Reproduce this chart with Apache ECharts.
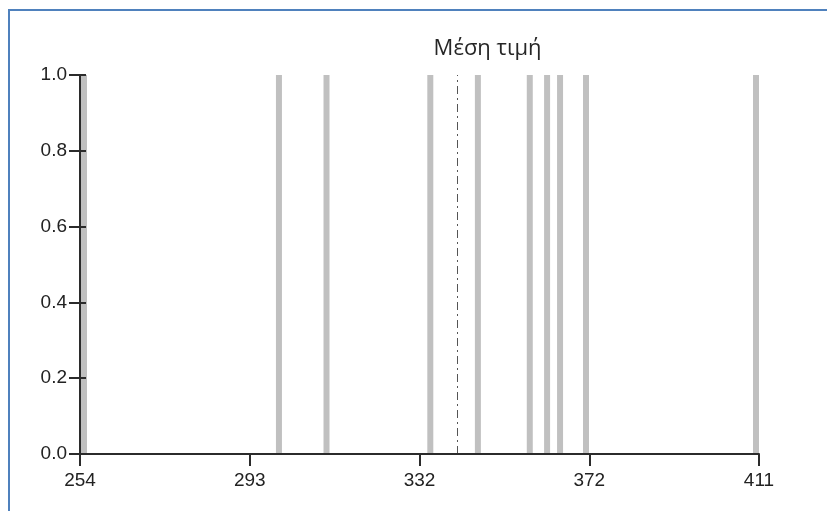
<!DOCTYPE html>
<html>
<head>
<meta charset="utf-8">
<script src="https://cdn.jsdelivr.net/npm/echarts@6/dist/echarts.min.js"></script>
<style>
html,body{margin:0;padding:0;background:#fff;}
#chart{width:827px;height:511px;}
</style>
</head>
<body>
<div id="chart"></div>
<script>
// Data
var values = [254, 300, 311, 335, 346, 358, 362, 365, 371, 411];
var counts = [1, 1, 1, 1, 1, 1, 1, 1, 1, 1];
var meanLabel = 'Μέση τιμή';
var xTickValues = [254, 293.25, 332.5, 371.75, 411];
var xTickLabels = ['254', '293', '332', '372', '411'];
var yTickLabels = ['0.0', '0.2', '0.4', '0.6', '0.8', '1.0'];

var meanValue = values.reduce(function (a, b) { return a + b; }, 0) / values.length;
var barData = values.map(function (v, i) { return [v, counts[i]]; });

var chart = echarts.init(document.getElementById('chart'));
var axisColor = '#2b2b2b';
var labelFont = { fontFamily: 'Liberation Sans, Arial, sans-serif', fontSize: 19, color: '#222' };

function nearestLabel(v) {
  var best = 0, d = Infinity;
  for (var i = 0; i < xTickValues.length; i++) {
    var dd = Math.abs(xTickValues[i] - v);
    if (dd < d) { d = dd; best = i; }
  }
  return xTickLabels[best];
}

var BAR_W = 6;
function renderBar(params, api) {
  var cs = params.coordSys;
  var top = api.coord([api.value(0), api.value(1)]);
  var base = api.coord([api.value(0), 0]);
  var x0 = top[0] - BAR_W / 2;
  if (x0 < cs.x + 1) x0 = cs.x + 1;
  if (x0 + BAR_W > cs.x + cs.width) x0 = cs.x + cs.width - BAR_W;
  return {
    type: 'rect',
    shape: { x: x0, y: top[1], width: BAR_W, height: base[1] - top[1] },
    style: { fill: '#c0c0c0' }
  };
}

chart.setOption({
  animation: false,
  backgroundColor: '#fff',
  grid: { left: 80, right: 68, top: 75, bottom: 57, containLabel: false },
  xAxis: {
    type: 'value', min: 254, max: 411, z: 10,
    axisLine: { show: true, lineStyle: { color: axisColor, width: 2 } },
    axisTick: { show: true, length: 12, customValues: xTickValues, lineStyle: { color: axisColor, width: 2 } },
    axisLabel: Object.assign({ margin: 17, customValues: xTickValues,
      formatter: function (v) { return nearestLabel(v); } }, labelFont),
    splitLine: { show: false }
  },
  yAxis: [{
    type: 'value', min: 0, max: 1, interval: 0.2, position: 'left', z: 10,
    axisLine: { show: true, lineStyle: { color: axisColor, width: 2 } },
    axisTick: { show: true, length: 11, lineStyle: { color: axisColor, width: 2 } },
    axisLabel: Object.assign({ margin: 13,
      formatter: function (v) { return yTickLabels[Math.round(v / 0.2)]; } }, labelFont),
    splitLine: { show: false }
  }, {
    type: 'value', min: 0, max: 1, interval: 0.2, position: 'left', offset: 0, z: 10,
    axisLine: { show: true, lineStyle: { color: 'rgba(0,0,0,0)', width: 0 } },
    axisTick: { show: true, inside: true, length: 6, lineStyle: { color: axisColor, width: 2 } },
    axisLabel: { show: false },
    splitLine: { show: false }
  }],
  graphic: [
    { type: 'line', shape: { x1: 9, y1: 10, x2: 9, y2: 511 }, style: { stroke: '#4f81bd', lineWidth: 2 }, z: 100 },
    { type: 'line', shape: { x1: 8, y1: 10, x2: 827, y2: 10 }, style: { stroke: '#4f81bd', lineWidth: 2 }, z: 100 }
  ],
  series: [{
    type: 'custom',
    xAxisIndex: 0, yAxisIndex: 0,
    data: barData,
    encode: { x: 0, y: 1 },
    renderItem: renderBar,
    z: 1,
    clip: false
  }, {
    type: 'line',
    data: [],
    xAxisIndex: 0, yAxisIndex: 0,
    z: 2,
    markLine: {
      silent: true,
      symbol: ['none', 'none'],
      data: [{ xAxis: meanValue }],
      lineStyle: { color: '#555', width: 1, type: [8, 4, 2, 4] },
      label: {
        show: true, position: 'end', formatter: meanLabel,
        fontFamily: 'Open Sans, sans-serif', fontSize: 22, color: '#262626',
        offset: [30, -10]
      }
    }
  }]
});
</script>
</body>
</html>
